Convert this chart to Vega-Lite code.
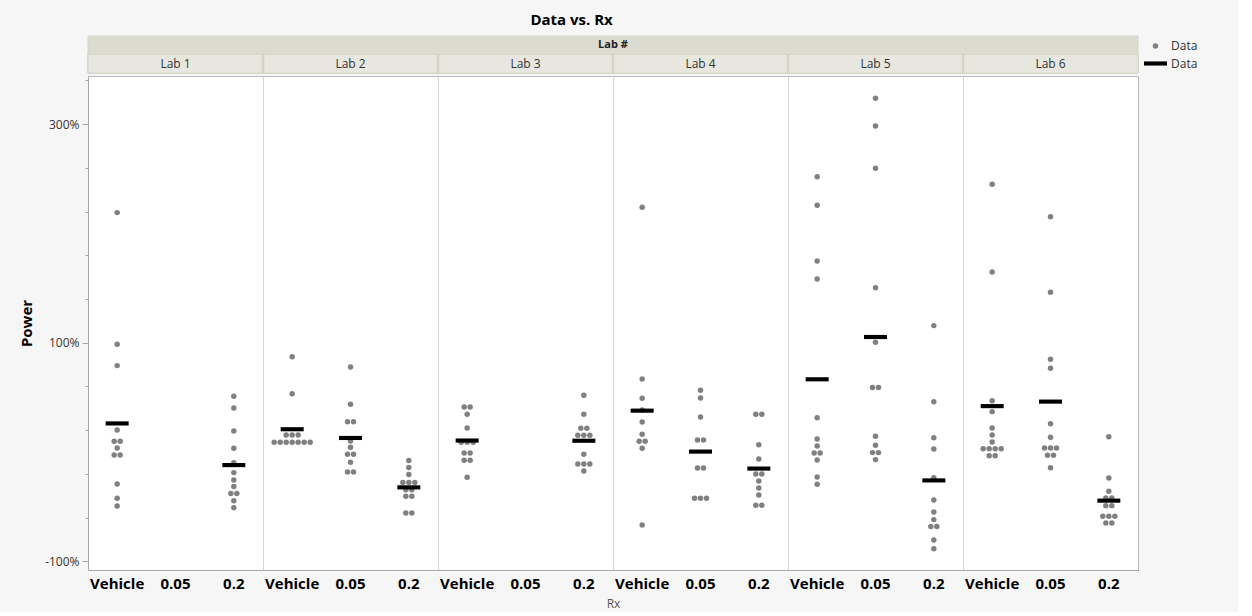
{
  "$schema": "https://vega.github.io/schema/vega-lite/v6.json",
  "background": "#f6f6f6",
  "padding": {"left": 19, "top": 12, "right": 36, "bottom": 2},
  "title": {"text": "Data vs. Rx", "fontSize": 15, "font": "Open Sans", "fontWeight": "bold", "color": "#000000", "anchor": "middle", "offset": 7, "dx": -39},
  "config": {
    "font": "Open Sans",
    "view": {"fill": "white", "stroke": "#b8b8b8"},
    "concat": {"spacing": 0}
  },
  "datasets": {
    "hdr": [
      {"row": "top", "text": "Lab #"},
      {"row": "bottom", "lab": "Lab 1", "text": "Lab 1"},
      {"row": "bottom", "lab": "Lab 2", "text": "Lab 2"},
      {"row": "bottom", "lab": "Lab 3", "text": "Lab 3"},
      {"row": "bottom", "lab": "Lab 4", "text": "Lab 4"},
      {"row": "bottom", "lab": "Lab 5", "text": "Lab 5"},
      {"row": "bottom", "lab": "Lab 6", "text": "Lab 6"}
    ],
    "obs": [
      {"lab": "Lab 1", "rx": "Vehicle", "power": 219},
      {"lab": "Lab 1", "rx": "Vehicle", "power": 98.5},
      {"lab": "Lab 1", "rx": "Vehicle", "power": 79},
      {"lab": "Lab 1", "rx": "Vehicle", "power": 20},
      {"lab": "Lab 1", "rx": "Vehicle", "power": 9.8},
      {"lab": "Lab 1", "rx": "Vehicle", "power": 9.8},
      {"lab": "Lab 1", "rx": "Vehicle", "power": 3.7},
      {"lab": "Lab 1", "rx": "Vehicle", "power": -2.7},
      {"lab": "Lab 1", "rx": "Vehicle", "power": -2.7},
      {"lab": "Lab 1", "rx": "Vehicle", "power": -29.3},
      {"lab": "Lab 1", "rx": "Vehicle", "power": -42.4},
      {"lab": "Lab 1", "rx": "Vehicle", "power": -49.4},
      {"lab": "Lab 1", "rx": "0.2", "power": 51},
      {"lab": "Lab 1", "rx": "0.2", "power": 40.3},
      {"lab": "Lab 1", "rx": "0.2", "power": 19.2},
      {"lab": "Lab 1", "rx": "0.2", "power": 3.3},
      {"lab": "Lab 1", "rx": "0.2", "power": -9.8},
      {"lab": "Lab 1", "rx": "0.2", "power": -18.9},
      {"lab": "Lab 1", "rx": "0.2", "power": -25.6},
      {"lab": "Lab 1", "rx": "0.2", "power": -31.7},
      {"lab": "Lab 1", "rx": "0.2", "power": -38.1},
      {"lab": "Lab 1", "rx": "0.2", "power": -38.1},
      {"lab": "Lab 1", "rx": "0.2", "power": -44.6},
      {"lab": "Lab 1", "rx": "0.2", "power": -51},
      {"lab": "Lab 2", "rx": "Vehicle", "power": 87.2},
      {"lab": "Lab 2", "rx": "Vehicle", "power": 53.3},
      {"lab": "Lab 2", "rx": "Vehicle", "power": 15.6},
      {"lab": "Lab 2", "rx": "Vehicle", "power": 15.6},
      {"lab": "Lab 2", "rx": "Vehicle", "power": 15.6},
      {"lab": "Lab 2", "rx": "Vehicle", "power": 8.9},
      {"lab": "Lab 2", "rx": "Vehicle", "power": 8.9},
      {"lab": "Lab 2", "rx": "Vehicle", "power": 8.9},
      {"lab": "Lab 2", "rx": "Vehicle", "power": 8.9},
      {"lab": "Lab 2", "rx": "Vehicle", "power": 8.9},
      {"lab": "Lab 2", "rx": "Vehicle", "power": 8.9},
      {"lab": "Lab 2", "rx": "Vehicle", "power": 8.9},
      {"lab": "Lab 2", "rx": "0.05", "power": 77.8},
      {"lab": "Lab 2", "rx": "0.05", "power": 43.6},
      {"lab": "Lab 2", "rx": "0.05", "power": 27.7},
      {"lab": "Lab 2", "rx": "0.05", "power": 27.7},
      {"lab": "Lab 2", "rx": "0.05", "power": 10},
      {"lab": "Lab 2", "rx": "0.05", "power": 4.3},
      {"lab": "Lab 2", "rx": "0.05", "power": -2.1},
      {"lab": "Lab 2", "rx": "0.05", "power": -2.1},
      {"lab": "Lab 2", "rx": "0.05", "power": -9.4},
      {"lab": "Lab 2", "rx": "0.05", "power": -18.3},
      {"lab": "Lab 2", "rx": "0.05", "power": -18.3},
      {"lab": "Lab 2", "rx": "0.2", "power": -7.9},
      {"lab": "Lab 2", "rx": "0.2", "power": -14.3},
      {"lab": "Lab 2", "rx": "0.2", "power": -20.7},
      {"lab": "Lab 2", "rx": "0.2", "power": -28},
      {"lab": "Lab 2", "rx": "0.2", "power": -28},
      {"lab": "Lab 2", "rx": "0.2", "power": -28},
      {"lab": "Lab 2", "rx": "0.2", "power": -34.5},
      {"lab": "Lab 2", "rx": "0.2", "power": -34.5},
      {"lab": "Lab 2", "rx": "0.2", "power": -40.6},
      {"lab": "Lab 2", "rx": "0.2", "power": -40.6},
      {"lab": "Lab 2", "rx": "0.2", "power": -55.8},
      {"lab": "Lab 2", "rx": "0.2", "power": -55.8},
      {"lab": "Lab 3", "rx": "Vehicle", "power": 41.2},
      {"lab": "Lab 3", "rx": "Vehicle", "power": 41.2},
      {"lab": "Lab 3", "rx": "Vehicle", "power": 34.5},
      {"lab": "Lab 3", "rx": "Vehicle", "power": 22},
      {"lab": "Lab 3", "rx": "Vehicle", "power": 8.9},
      {"lab": "Lab 3", "rx": "Vehicle", "power": 8.9},
      {"lab": "Lab 3", "rx": "Vehicle", "power": 8.9},
      {"lab": "Lab 3", "rx": "Vehicle", "power": -0.9},
      {"lab": "Lab 3", "rx": "Vehicle", "power": -0.9},
      {"lab": "Lab 3", "rx": "Vehicle", "power": -7.6},
      {"lab": "Lab 3", "rx": "Vehicle", "power": -7.6},
      {"lab": "Lab 3", "rx": "Vehicle", "power": -23.1},
      {"lab": "Lab 3", "rx": "0.2", "power": 51.9},
      {"lab": "Lab 3", "rx": "0.2", "power": 34.5},
      {"lab": "Lab 3", "rx": "0.2", "power": 21.7},
      {"lab": "Lab 3", "rx": "0.2", "power": 21.7},
      {"lab": "Lab 3", "rx": "0.2", "power": 15.3},
      {"lab": "Lab 3", "rx": "0.2", "power": 15.3},
      {"lab": "Lab 3", "rx": "0.2", "power": 15.3},
      {"lab": "Lab 3", "rx": "0.2", "power": -2.1},
      {"lab": "Lab 3", "rx": "0.2", "power": -11},
      {"lab": "Lab 3", "rx": "0.2", "power": -11},
      {"lab": "Lab 3", "rx": "0.2", "power": -11},
      {"lab": "Lab 3", "rx": "0.2", "power": -17.4},
      {"lab": "Lab 4", "rx": "Vehicle", "power": 223.9},
      {"lab": "Lab 4", "rx": "Vehicle", "power": 66.8},
      {"lab": "Lab 4", "rx": "Vehicle", "power": 49.1},
      {"lab": "Lab 4", "rx": "Vehicle", "power": 38.4},
      {"lab": "Lab 4", "rx": "Vehicle", "power": 27.4},
      {"lab": "Lab 4", "rx": "Vehicle", "power": 16.2},
      {"lab": "Lab 4", "rx": "Vehicle", "power": 9.8},
      {"lab": "Lab 4", "rx": "Vehicle", "power": 9.8},
      {"lab": "Lab 4", "rx": "Vehicle", "power": 3.4},
      {"lab": "Lab 4", "rx": "Vehicle", "power": -66.8},
      {"lab": "Lab 4", "rx": "0.05", "power": 56.4},
      {"lab": "Lab 4", "rx": "0.05", "power": 49.4},
      {"lab": "Lab 4", "rx": "0.05", "power": 32},
      {"lab": "Lab 4", "rx": "0.05", "power": 11},
      {"lab": "Lab 4", "rx": "0.05", "power": 11},
      {"lab": "Lab 4", "rx": "0.05", "power": -14.6},
      {"lab": "Lab 4", "rx": "0.05", "power": -14.6},
      {"lab": "Lab 4", "rx": "0.05", "power": -42.4},
      {"lab": "Lab 4", "rx": "0.05", "power": -42.4},
      {"lab": "Lab 4", "rx": "0.05", "power": -42.4},
      {"lab": "Lab 4", "rx": "0.2", "power": 34.5},
      {"lab": "Lab 4", "rx": "0.2", "power": 34.5},
      {"lab": "Lab 4", "rx": "0.2", "power": 6.7},
      {"lab": "Lab 4", "rx": "0.2", "power": -6.4},
      {"lab": "Lab 4", "rx": "0.2", "power": -20.1},
      {"lab": "Lab 4", "rx": "0.2", "power": -20.1},
      {"lab": "Lab 4", "rx": "0.2", "power": -26.5},
      {"lab": "Lab 4", "rx": "0.2", "power": -32.9},
      {"lab": "Lab 4", "rx": "0.2", "power": -39.3},
      {"lab": "Lab 4", "rx": "0.2", "power": -48.8},
      {"lab": "Lab 4", "rx": "0.2", "power": -48.8},
      {"lab": "Lab 5", "rx": "Vehicle", "power": 251.9},
      {"lab": "Lab 5", "rx": "Vehicle", "power": 225.7},
      {"lab": "Lab 5", "rx": "Vehicle", "power": 174.7},
      {"lab": "Lab 5", "rx": "Vehicle", "power": 158.3},
      {"lab": "Lab 5", "rx": "Vehicle", "power": 31.4},
      {"lab": "Lab 5", "rx": "Vehicle", "power": 11.9},
      {"lab": "Lab 5", "rx": "Vehicle", "power": 5.5},
      {"lab": "Lab 5", "rx": "Vehicle", "power": -0.9},
      {"lab": "Lab 5", "rx": "Vehicle", "power": -0.9},
      {"lab": "Lab 5", "rx": "Vehicle", "power": -7.3},
      {"lab": "Lab 5", "rx": "Vehicle", "power": -22.9},
      {"lab": "Lab 5", "rx": "Vehicle", "power": -29.6},
      {"lab": "Lab 5", "rx": "0.05", "power": 323.6},
      {"lab": "Lab 5", "rx": "0.05", "power": 298.3},
      {"lab": "Lab 5", "rx": "0.05", "power": 259.6},
      {"lab": "Lab 5", "rx": "0.05", "power": 150.3},
      {"lab": "Lab 5", "rx": "0.05", "power": 100.4},
      {"lab": "Lab 5", "rx": "0.05", "power": 58.9},
      {"lab": "Lab 5", "rx": "0.05", "power": 58.9},
      {"lab": "Lab 5", "rx": "0.05", "power": 14.4},
      {"lab": "Lab 5", "rx": "0.05", "power": 6.1},
      {"lab": "Lab 5", "rx": "0.05", "power": -0.6},
      {"lab": "Lab 5", "rx": "0.05", "power": -0.6},
      {"lab": "Lab 5", "rx": "0.05", "power": -7},
      {"lab": "Lab 5", "rx": "0.2", "power": 115.6},
      {"lab": "Lab 5", "rx": "0.2", "power": 46},
      {"lab": "Lab 5", "rx": "0.2", "power": 13.1},
      {"lab": "Lab 5", "rx": "0.2", "power": 2.7},
      {"lab": "Lab 5", "rx": "0.2", "power": -23.5},
      {"lab": "Lab 5", "rx": "0.2", "power": -43.9},
      {"lab": "Lab 5", "rx": "0.2", "power": -54.9},
      {"lab": "Lab 5", "rx": "0.2", "power": -61.9},
      {"lab": "Lab 5", "rx": "0.2", "power": -68.3},
      {"lab": "Lab 5", "rx": "0.2", "power": -68.3},
      {"lab": "Lab 5", "rx": "0.2", "power": -80.5},
      {"lab": "Lab 5", "rx": "0.2", "power": -88.5},
      {"lab": "Lab 6", "rx": "Vehicle", "power": 244.9},
      {"lab": "Lab 6", "rx": "Vehicle", "power": 164.7},
      {"lab": "Lab 6", "rx": "Vehicle", "power": 46.9},
      {"lab": "Lab 6", "rx": "Vehicle", "power": 36.9},
      {"lab": "Lab 6", "rx": "Vehicle", "power": 22},
      {"lab": "Lab 6", "rx": "Vehicle", "power": 15.6},
      {"lab": "Lab 6", "rx": "Vehicle", "power": 9.1},
      {"lab": "Lab 6", "rx": "Vehicle", "power": 3},
      {"lab": "Lab 6", "rx": "Vehicle", "power": 3},
      {"lab": "Lab 6", "rx": "Vehicle", "power": 3},
      {"lab": "Lab 6", "rx": "Vehicle", "power": 3},
      {"lab": "Lab 6", "rx": "Vehicle", "power": -3.4},
      {"lab": "Lab 6", "rx": "Vehicle", "power": -3.4},
      {"lab": "Lab 6", "rx": "0.05", "power": 215.3},
      {"lab": "Lab 6", "rx": "0.05", "power": 146.1},
      {"lab": "Lab 6", "rx": "0.05", "power": 84.8},
      {"lab": "Lab 6", "rx": "0.05", "power": 76.6},
      {"lab": "Lab 6", "rx": "0.05", "power": 25.9},
      {"lab": "Lab 6", "rx": "0.05", "power": 13.4},
      {"lab": "Lab 6", "rx": "0.05", "power": 3.7},
      {"lab": "Lab 6", "rx": "0.05", "power": 3.7},
      {"lab": "Lab 6", "rx": "0.05", "power": 3.7},
      {"lab": "Lab 6", "rx": "0.05", "power": -3},
      {"lab": "Lab 6", "rx": "0.05", "power": -3},
      {"lab": "Lab 6", "rx": "0.05", "power": -14.4},
      {"lab": "Lab 6", "rx": "0.2", "power": 14},
      {"lab": "Lab 6", "rx": "0.2", "power": -23.8},
      {"lab": "Lab 6", "rx": "0.2", "power": -36},
      {"lab": "Lab 6", "rx": "0.2", "power": -42.1},
      {"lab": "Lab 6", "rx": "0.2", "power": -42.1},
      {"lab": "Lab 6", "rx": "0.2", "power": -49.1},
      {"lab": "Lab 6", "rx": "0.2", "power": -49.1},
      {"lab": "Lab 6", "rx": "0.2", "power": -58.8},
      {"lab": "Lab 6", "rx": "0.2", "power": -58.8},
      {"lab": "Lab 6", "rx": "0.2", "power": -58.8},
      {"lab": "Lab 6", "rx": "0.2", "power": -65},
      {"lab": "Lab 6", "rx": "0.2", "power": -65}
    ]
  },
  "vconcat": [
    {
      "width": 1050,
      "height": 37,
      "data": {"name": "hdr"},
      "view": {"stroke": null, "fill": null},
      "layer": [
        {
          "transform": [{"filter": "datum.row == 'bottom'"}],
          "mark": {"type": "rect", "fill": "#e7e7df", "stroke": "#d6d6cb", "strokeWidth": 1},
          "encoding": {
            "y": {"field": "row", "type": "nominal", "scale": {"type": "band", "domain": ["top", "bottom"], "paddingInner": 0, "paddingOuter": 0}, "axis": null}
          }
        },
        {
          "transform": [{"filter": "datum.row == 'bottom' && datum.lab != 'Lab 1'"}],
          "mark": {"type": "rule", "color": "#d3d3c7", "strokeWidth": 2.5},
          "encoding": {
            "x": {"field": "lab", "type": "nominal", "bandPosition": 0, "scale": {"type": "band", "paddingInner": 0, "paddingOuter": 0, "domain": ["Lab 1", "Lab 2", "Lab 3", "Lab 4", "Lab 5", "Lab 6"]}, "axis": null}
          }
        },
        {
          "transform": [{"filter": "datum.row == 'top'"}],
          "mark": {"type": "rect", "fill": "#dcdbd0", "stroke": "#d6d6cb", "strokeWidth": 1},
          "encoding": {
            "y": {"field": "row", "type": "nominal"}
          }
        },
        {
          "transform": [{"filter": "datum.row == 'top'"}],
          "mark": {"type": "text", "fontSize": 11, "fontWeight": "bold", "color": "#222222"},
          "encoding": {
            "y": {"field": "row", "type": "nominal"},
            "text": {"field": "text"}
          }
        },
        {
          "transform": [{"filter": "datum.row == 'bottom'"}],
          "mark": {"type": "text", "fontSize": 12, "color": "#333333"},
          "encoding": {
            "x": {"field": "lab", "type": "nominal"},
            "y": {"field": "row", "type": "nominal"},
            "text": {"field": "text"}
          }
        }
      ]
    },
    {
      "width": 1050,
      "height": 494,
      "data": {"name": "obs"},
      "transform": [
        {"calculate": "datum.lab + '|' + datum.rx", "as": "key"},
        {"window": [{"op": "count", "as": "n"}, {"op": "row_number", "as": "r"}], "groupby": ["lab", "rx", "power"], "frame": [null, null]},
        {"calculate": "(datum.r - (datum.n + 1) / 2) * 6", "as": "jit"}
      ],
      "encoding": {
        "x": {
          "field": "key", "type": "nominal", "title": "Rx",
          "scale": {"type": "band", "paddingInner": 0, "paddingOuter": 0, "domain": [
            "Lab 1|Vehicle", "Lab 1|0.05", "Lab 1|0.2",
            "Lab 2|Vehicle", "Lab 2|0.05", "Lab 2|0.2",
            "Lab 3|Vehicle", "Lab 3|0.05", "Lab 3|0.2",
            "Lab 4|Vehicle", "Lab 4|0.05", "Lab 4|0.2",
            "Lab 5|Vehicle", "Lab 5|0.05", "Lab 5|0.2",
            "Lab 6|Vehicle", "Lab 6|0.05", "Lab 6|0.2"]},
          "axis": {
            "labelExpr": "split(datum.value, '|')[1]",
            "labelAngle": 0,
            "labelFontSize": 15,
            "labelFontWeight": "bold",
            "labelColor": "#000000",
            "labelOverlap": false,
            "labelPadding": 6,
            "ticks": false,
            "domainColor": "#a8a8a8",
            "grid": true,
            "gridColor": "#d4d4d4",
            "gridOpacity": {"condition": {"test": "indexof(datum.value, 'Vehicle') >= 0", "value": 1}, "value": 0},
            "bandPosition": 0,
            "titleFontSize": 12,
            "titleFontWeight": "normal",
            "titleColor": "#555555",
            "titlePadding": 7
          }
        }
      },
      "layer": [
        {
          "mark": {"type": "point", "filled": true, "opacity": 1, "strokeWidth": 0},
          "encoding": {
            "y": {
              "field": "power", "type": "quantitative", "title": "Power",
              "scale": {"domain": [-108, 344], "nice": false, "zero": false},
              "axis": {
                "values": [-100, -80, -60, -40, -20, 0, 20, 40, 60, 80, 100, 120, 140, 160, 180, 200, 220, 240, 260, 280, 300, 320, 340],
                "labelExpr": "datum.value % 100 == 0 ? datum.value + '%' : ''",
                "tickSize": {"condition": {"test": "datum.value % 100 == 0", "value": 6}, "value": 3},
                "grid": false,
                "domainColor": "#a8a8a8",
                "tickColor": "#a8a8a8",
                "labelFontSize": 12,
                "labelColor": "#333333",
                "labelPadding": 3,
                "titleFontSize": 15,
                "titleFontWeight": "bold",
                "titleColor": "#000000",
                "titlePadding": 10
              }
            },
            "xOffset": {"field": "jit", "type": "quantitative", "scale": {"domain": [-29.1667, 29.1667], "range": [0, 58.3333]}},
            "color": {"datum": "points", "type": "nominal", "scale": {"domain": ["points", "mean"], "range": ["#808080", "#000000"]},
              "legend": {"title": null, "labelExpr": "'Data'", "offset": 1, "padding": 4, "labelFontSize": 12, "labelColor": "#333333", "rowPadding": 0, "symbolStrokeWidth": 0}},
            "shape": {"datum": "points", "type": "nominal", "scale": {"domain": ["points", "mean"], "range": ["circle", "M-1,-0.18H1V0.18H-1Z"]},
              "legend": {"title": null, "labelExpr": "'Data'", "offset": 1, "padding": 4, "labelFontSize": 12, "labelColor": "#333333", "rowPadding": 0, "symbolStrokeWidth": 0}},
            "size": {"datum": "points", "type": "ordinal", "scale": {"domain": ["points", "mean"], "range": [30, 529]},
              "legend": {"title": null, "labelExpr": "'Data'", "offset": 1, "padding": 4, "labelFontSize": 12, "labelColor": "#333333", "rowPadding": 0, "symbolStrokeWidth": 0}}
          }
        },
        {
          "mark": {"type": "point", "filled": true, "opacity": 1, "strokeWidth": 0},
          "encoding": {
            "y": {"aggregate": "mean", "field": "power", "type": "quantitative"},
            "color": {"datum": "mean", "type": "nominal"},
            "shape": {"datum": "mean", "type": "nominal"},
            "size": {"datum": "mean", "type": "ordinal"}
          }
        }
      ]
    }
  ],
  "resolve": {"scale": {"x": "independent"}}
}
